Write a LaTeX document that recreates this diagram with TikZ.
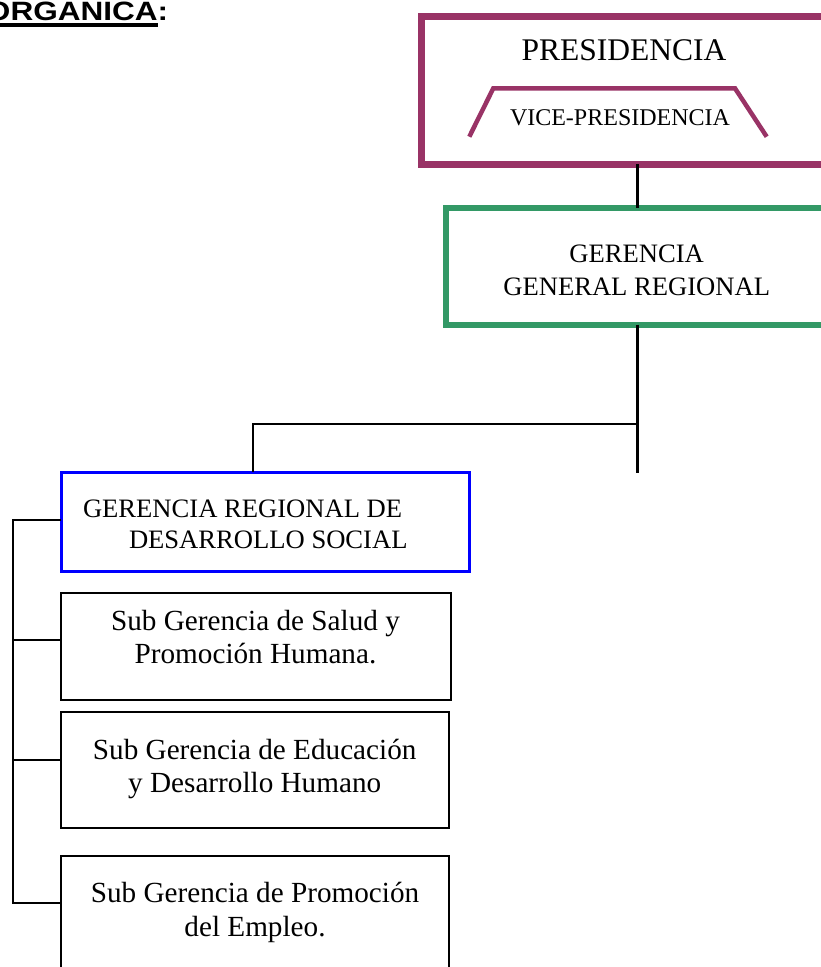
\documentclass[tikz,border=0pt]{standalone}
\usepackage{fontspec}
\setmainfont{Liberation Serif}
\newfontfamily\titlefont{Liberation Sans}
\definecolor{plum}{RGB}{153,51,102}
\definecolor{seagreen}{RGB}{51,153,102}
\definecolor{pureblue}{RGB}{0,0,255}
\begin{document}
\begin{tikzpicture}[x=1pt,y=-1pt,
  box/.style={draw, rectangle, inner sep=0pt, outer sep=0pt, anchor=north west},
  txt/.style={inner sep=0pt, outer sep=0pt, anchor=base},
  big/.style={font=\fontsize{31.5}{36}\selectfont},
  vice/.style={font=\fontsize{24}{28}\selectfont},
  mid/.style={font=\fontsize{26.6}{31}\selectfont},
  sub/.style={font=\fontsize{29.2}{33}\selectfont},
  conn/.style={draw=black, line width=2pt},
  trunk/.style={draw=black, line width=2.5pt}]
\clip (0,0) rectangle (821,967);
\fill[white] (0,0) rectangle (821,967);

% title
\node[txt, anchor=base west, font=\titlefont\bfseries\fontsize{26.5}{30}\selectfont] (t1) at (-14,20.7) {\scalebox{1.19}[1]{ORGANICA}};
\node[txt, anchor=base west, font=\titlefont\bfseries\fontsize{26.5}{30}\selectfont] (t2) at (t1.base east) {\scalebox{1.19}[1]{:}};
\draw[line width=4pt] ([yshift=-4.6pt]t1.base west) -- ([yshift=-4.6pt]t1.base east);

% connectors
\coordinate (tk) at (637.4,424.3);
\coordinate (tkend) at (637.4,473);
\coordinate (c1) at (253,424.3);
\coordinate (bustop) at (13,520);
\coordinate (b1) at (13,640);
\coordinate (b2) at (13,760);
\coordinate (b3) at (13,903.3);

% boxes
\node[box, draw=plum, line width=7pt, minimum width=420pt, minimum height=148pt] (pres) at (421,16.3) {};
\node[box, draw=seagreen, line width=6pt, minimum width=420pt, minimum height=116.5pt] (ger) at (446,208) {};
\node[box, draw=pureblue, line width=3.3pt, minimum width=408.4pt, minimum height=99pt] (social) at (61.3,472.3) {};
\node[box, line width=2.3pt, minimum width=390pt, minimum height=107.3pt] (sub1) at (61,592.7) {};
\node[box, line width=2.3pt, minimum width=388pt, minimum height=116pt] (sub2) at (61,712.3) {};
\node[box, line width=2.3pt, minimum width=388pt, minimum height=160pt] (sub3) at (61,856) {};

% vice-presidencia trapezoid
\draw[plum, line width=4.5pt] (469.3,136.7) -- (493.3,88.3) -- (735,88.3) -- (766.7,136.7);

% texts
\node[txt, big] (ptext) at (624,60) {PRESIDENCIA};
\node[txt, vice] (vtext) at (620,125) {VICE-PRESIDENCIA};
\node[txt, mid] (g1) at (636.7,262.7) {GERENCIA};
\node[txt, mid] (g2) at (636.7,295) {GENERAL REGIONAL};
\node[txt, mid, anchor=base west] (s1) at (83,517.3) {GERENCIA REGIONAL DE};
\node[txt, mid, anchor=base west] (s2) at (129,548.3) {DESARROLLO SOCIAL};
\node[txt, sub] (a1) at (255.5,630.7) {Sub Gerencia de Salud y};
\node[txt, sub] (a2) at (255.5,663.3) {Promoción Humana.};
\node[txt, sub] (e1) at (254.7,759.3) {Sub Gerencia de Educación};
\node[txt, sub] (e2) at (254.7,792.7) {y Desarrollo Humano};
\node[txt, sub] (m1) at (255,902.7) {Sub Gerencia de Promoción};
\node[txt, sub] (m2) at (255,936.7) {del Empleo.};

% connector lines
\draw[trunk] (pres.south -| tk) -- (ger.north -| tk);
\draw[trunk] (ger.south -| tk) -- (tkend);
\draw[conn] (tk) -- (c1) -- (c1 |- social.north);
\draw[conn] (social.west |- bustop) -- (bustop) -- (b3) -- (b3 -| sub3.west);
\draw[conn] (b1) -- (b1 -| sub1.west);
\draw[conn] (b2) -- (b2 -| sub2.west);
\end{tikzpicture}
\end{document}
